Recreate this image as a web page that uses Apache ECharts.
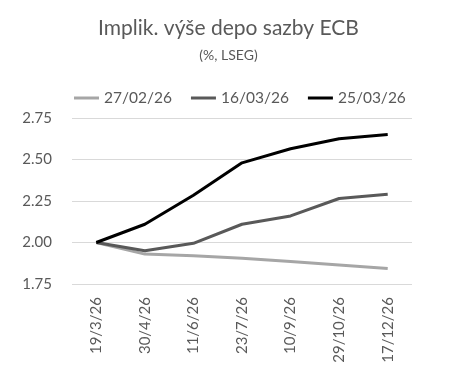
<!DOCTYPE html>
<html><head><meta charset="utf-8">
<script src="https://cdn.jsdelivr.net/npm/echarts@6/dist/echarts.min.js"></script>
<style>html,body{margin:0;padding:0;background:#fff}#c{width:457px;height:386px}</style>
</head><body><div id="c"></div>
<script>
const categories = ['19/3/26','30/4/26','11/6/26','23/7/26','10/9/26','29/10/26','17/12/26'];
const seriesNames = ['27/02/26','16/03/26','25/03/26'];
const s270226 = [2.00, 1.93, 1.92, 1.905, 1.885, 1.865, 1.843];
const s160326 = [2.00, 1.95, 1.995, 2.11, 2.16, 2.265, 2.29];
const s250326 = [2.00, 2.11, 2.285, 2.48, 2.565, 2.625, 2.65];
const yTicks = [1.75, 2.00, 2.25, 2.50, 2.75];
const colors = ['#a6a6a6', '#595959', '#000000'];
const FONT = 'Lato';
const chart = echarts.init(document.getElementById('c'));
const data = [s270226, s160326, s250326];
chart.setOption({
  animation: false,
  title: {
    text: 'Implik. výše depo sazby ECB',
    subtext: '(%, LSEG)',
    left: 'center', top: 13,
    itemGap: 9,
    textStyle: {fontFamily: FONT, fontSize: 21, fontWeight: 'normal', color: '#595959'},
    subtextStyle: {fontFamily: FONT, fontSize: 14, color: '#595959'}
  },
  legend: {
    data: seriesNames,
    left: 69, top: 85,
    icon: 'rect',
    itemWidth: 25, itemHeight: 3, itemGap: 19,
    textStyle: {fontFamily: FONT, fontSize: 15.5, color: '#595959'}
  },
  grid: {left: 72, right: 45, top: 118, bottom: 102},
  xAxis: {
    type: 'category', data: categories, boundaryGap: true,
    axisLine: {show: false}, axisTick: {show: false},
    axisLabel: {rotate: 90, fontFamily: FONT, fontSize: 15, color: '#595959', margin: 13}
  },
  yAxis: {
    type: 'value', min: yTicks[0], max: yTicks[yTicks.length-1], interval: 0.25,
    axisLine: {show: false}, axisTick: {show: false},
    splitLine: {lineStyle: {color: '#d9d9d9', width: 1}},
    axisLabel: {fontFamily: FONT, fontSize: 15, color: '#595959', margin: 20,
      formatter: v => v.toFixed(2)}
  },
  series: seriesNames.map((n, i) => ({
    name: n, type: 'line', data: data[i], symbol: 'none',
    lineStyle: {color: colors[i], width: 3}, itemStyle: {color: colors[i]}
  }))
});
</script></body></html>
